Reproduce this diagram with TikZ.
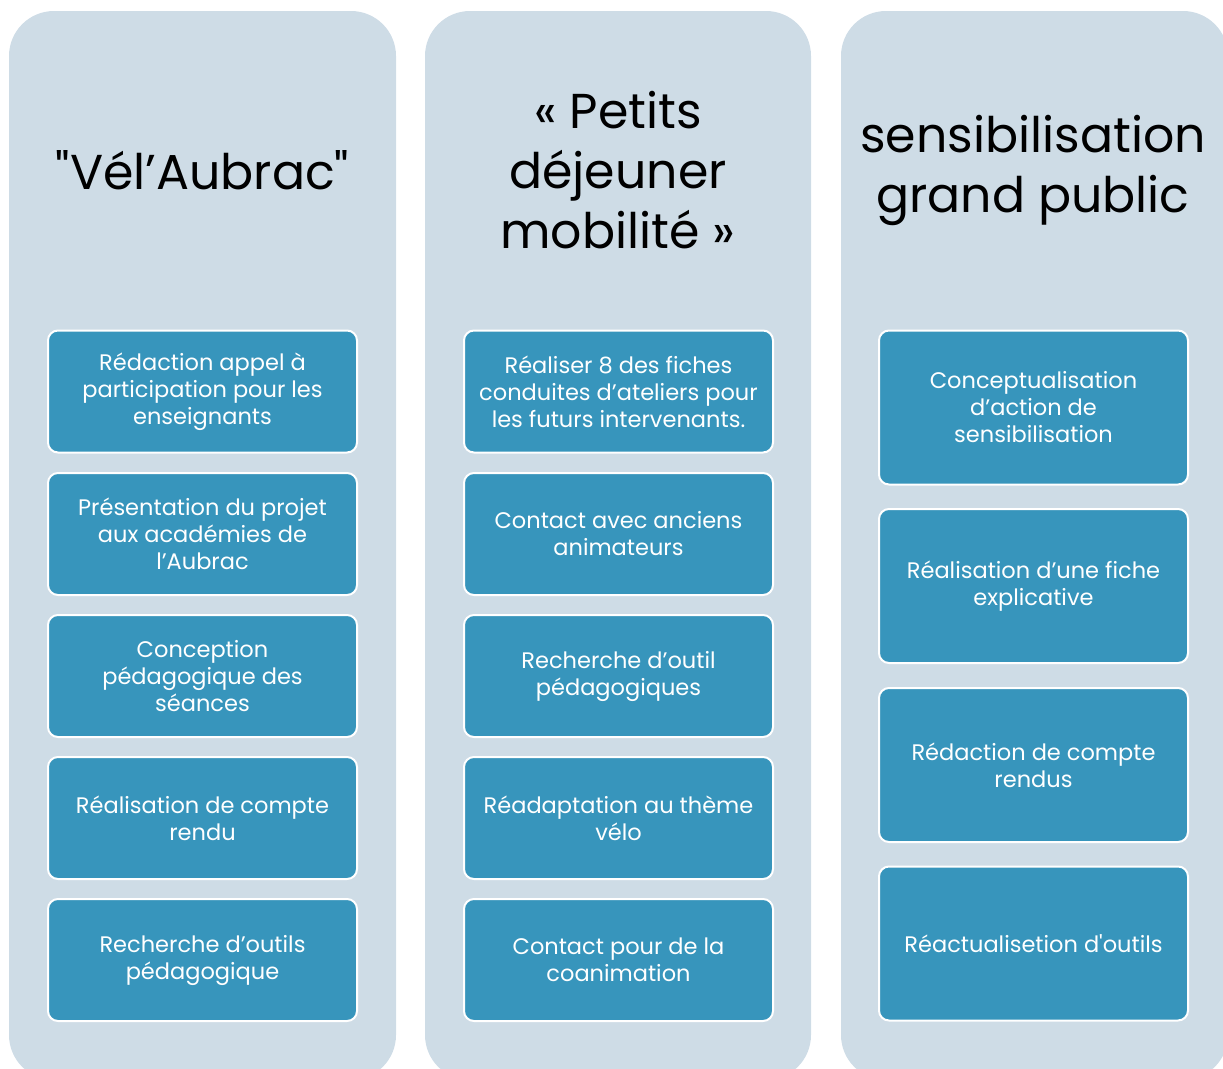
\documentclass[tikz,border=0pt]{standalone}
\usepackage{fontspec}
\setmainfont{Poppins}[Ligatures=TeXOff]
\definecolor{colbg}{HTML}{CEDCE6}
\definecolor{boxblue}{HTML}{3795BC}
\tikzset{
  colpanel/.style={fill=colbg, rounded corners=45pt},
  itembox/.style={draw=white, line width=2pt, fill=boxblue, rounded corners=10pt,
    text=white, align=center, inner sep=0pt, minimum width=309pt,
    font=\fontsize{22.5}{27}\selectfont},
  shortbox/.style={itembox, minimum height=122pt},
  tallbox/.style={itembox, minimum height=154pt},
  title/.style={align=center, text=black, font=\fontsize{49}{60}\selectfont}
}
\begin{document}
\begin{tikzpicture}[x=1pt,y=-1pt]
\useasboundingbox (0,0) rectangle (1223,1068);
\begin{scope}
\clip (0,0) rectangle (1223,1068);
\fill[colpanel] (9,11) rectangle (396,1080);
\fill[colpanel] (425,11) rectangle (811,1080);
\fill[colpanel] (841,11) rectangle (1228,1080);
\end{scope}
% titles
\node[title] (t1) at (202.5,170) {"Vél’Aubrac"};
\node[title] (t2) at (618,170) {« Petits\\déjeuner\\mobilité »};
\node[title] (t3) at (1033,170) {sensibilisation\\grand public};
% left column
\node[shortbox] (a1) at (202.5,391.5) {Rédaction appel à\\participation pour les\\enseignants};
\node[shortbox] (a2) at (202.5,534) {Présentation du projet\\aux académies de\\l’Aubrac};
\node[shortbox] (a3) at (202.5,676) {Conception\\pédagogique des\\séances};
\node[shortbox] (a4) at (202.5,818) {Réalisation de compte\\rendu};
\node[shortbox] (a5) at (202.5,960) {Recherche d’outils\\pédagogique};
% middle column
\node[shortbox] (b1) at (618.5,391.5) {Réaliser 8 des fiches\\conduites d’ateliers pour\\les futurs intervenants.};
\node[shortbox] (b2) at (618.5,534) {Contact avec anciens\\animateurs};
\node[shortbox] (b3) at (618.5,676) {Recherche d’outil\\pédagogiques};
\node[shortbox] (b4) at (618.5,818) {Réadaptation au thème\\vélo};
\node[shortbox] (b5) at (618.5,960) {Contact pour de la\\coanimation};
% right column
\node[tallbox] (c1) at (1033.5,407.5) {Conceptualisation\\d’action de\\sensibilisation};
\node[tallbox] (c2) at (1033.5,586) {Réalisation d’une fiche\\explicative};
\node[tallbox] (c3) at (1033.5,765) {Rédaction de compte\\rendus};
\node[tallbox] (c4) at (1033.5,943.5) {Réactualisetion d'outils};
\end{tikzpicture}
\end{document}
